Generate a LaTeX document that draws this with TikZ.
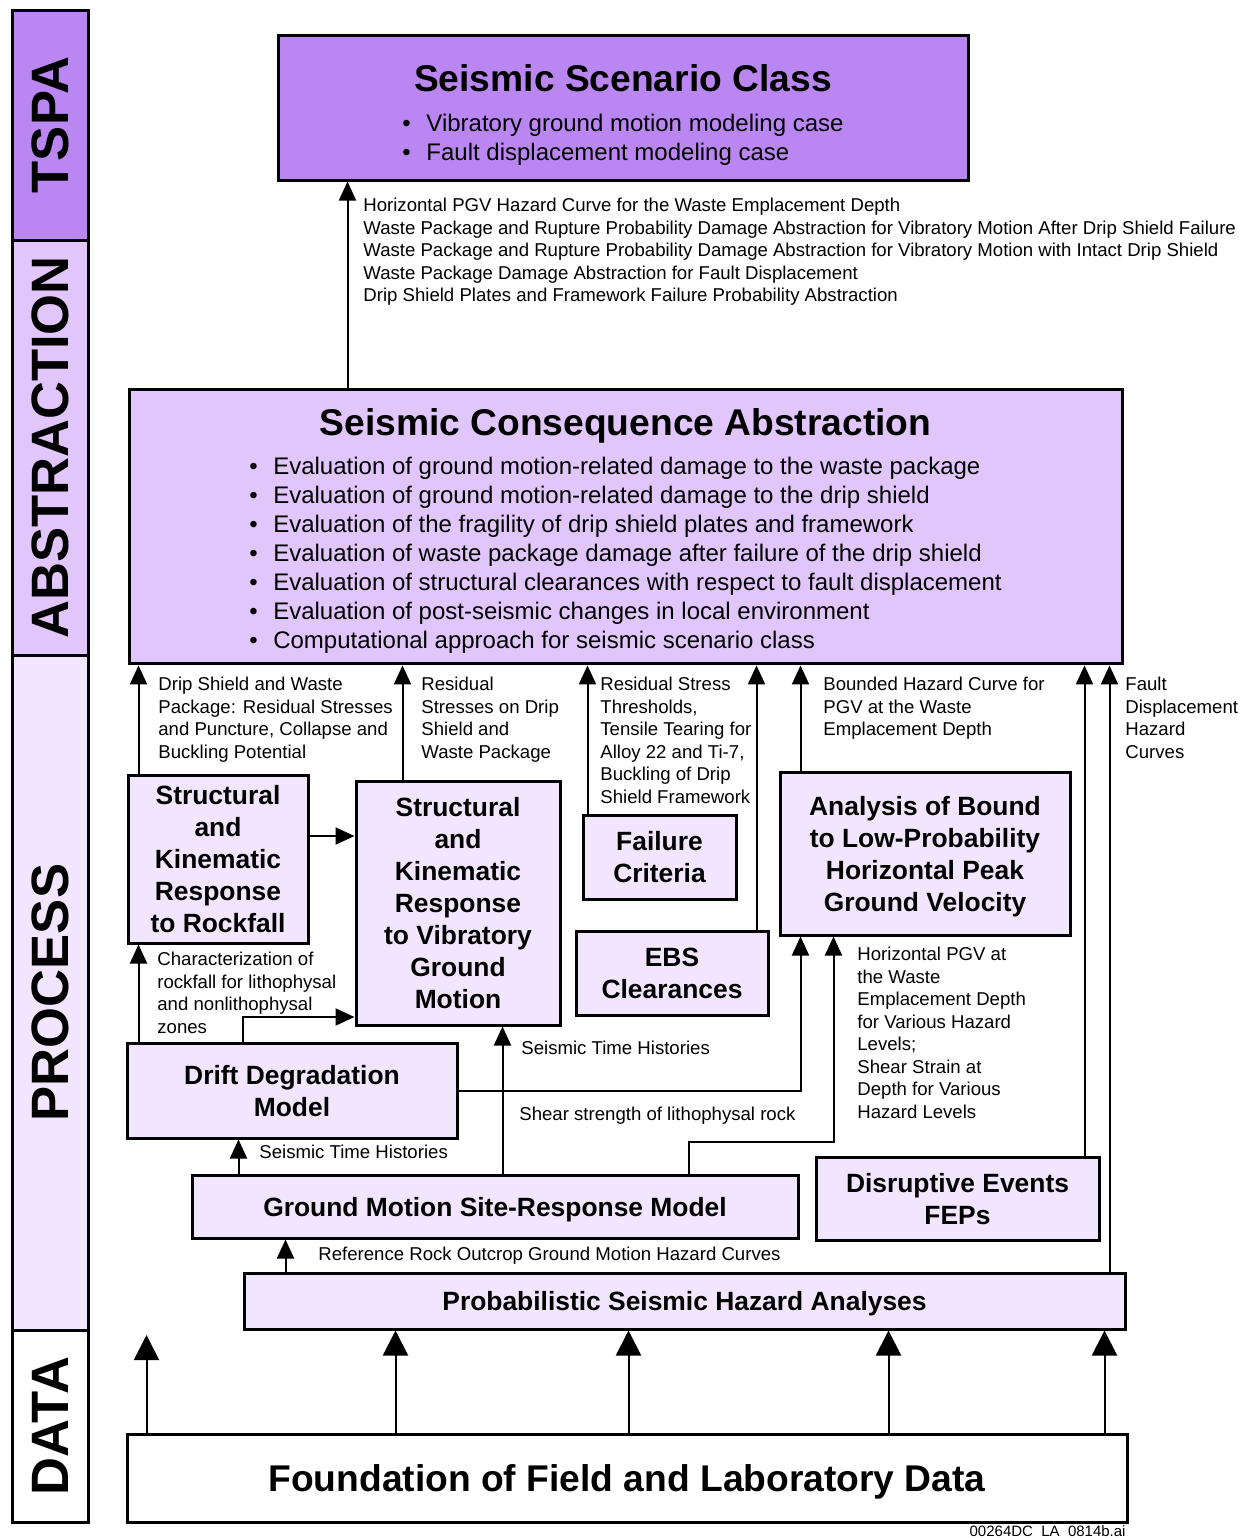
\documentclass[tikz,border=0pt]{standalone}
\usepackage{fontspec}
\setmainfont{Liberation Sans}
\usetikzlibrary{arrows.meta,positioning}
\definecolor{tspafill}{RGB}{186,134,242}
\definecolor{absfill}{RGB}{225,198,252}
\definecolor{procfill}{RGB}{242,230,254}
\newcommand{\headfont}{\bfseries\fontsize{18.6}{22}\selectfont}
\newcommand{\itm}{\makebox[12pt][l]{\textbullet}}
\tikzset{
    band/.style={
    rectangle,draw=black,line width=1.5pt,rotate=90,minimum height=38pt,inner sep=0pt,
    font=\bfseries\fontsize{26.3}{28}\selectfont
    },
    scenario/.style={
    rectangle,draw=black,line width=1.5pt,fill=tspafill,align=center,
    font=\fontsize{12}{14.5}\selectfont
    },
    abstraction/.style={
    rectangle,draw=black,line width=1.5pt,fill=absfill,align=center,
    font=\fontsize{12}{14.5}\selectfont
    },
    process/.style={
    rectangle,draw=black,line width=1.5pt,fill=procfill,align=center,text depth=0pt,
    font=\bfseries\fontsize{13.2}{16}\selectfont
    },
    datum/.style={
    rectangle,draw=black,line width=1.5pt,fill=white,text depth=0pt,font=\headfont
    },
    note/.style={
    anchor=north west,inner sep=0pt,align=left,font=\fontsize{9.3}{11.25}\selectfont
    },
    flow/.style={line width=1pt,-{Triangle[length=9.5pt,width=8.5pt]}},
    bigflow/.style={line width=1pt,-{Triangle[length=12.5pt,width=12.5pt]}},
}
\begin{document}
\begin{tikzpicture}[x=0.5pt,y=-0.5pt]
  \useasboundingbox (0,0) rectangle (1249,1538);

  % level bands
  \node[band,fill=tspafill,minimum width=115pt] (tspa) at (50,125) {TSPA};
  \node[band,fill=absfill,minimum width=207.5pt] (abstr) at (50,447.5) {ABSTRACTION};
  \node[band,fill=procfill,minimum width=337.5pt] (proc) at (50,992.5) {PROCESS};
  \node[band,fill=white,minimum width=96pt] (data) at (50,1426) {DATA};

  \node[scenario,minimum width=345pt,minimum height=72.5pt] (scen) at (623,107.5)
    {{\headfont\rule{0pt}{23pt}Seismic Scenario Class}\\[5.5pt]
     \begin{tabular}[t]{@{}l@{}}
     \itm Vibratory ground motion modeling case\\
     \itm Fault displacement modeling case
     \end{tabular}};
  \node[abstraction,minimum width=496.5pt,minimum height=136.5pt] (sca) at (625.5,526.5)
    {{\headfont\rule{0pt}{19.7pt}Seismic Consequence Abstraction}\\[5.2pt]
     \begin{tabular}[t]{@{}l@{}}
     \itm Evaluation of ground motion-related damage to the waste package\\
     \itm Evaluation of ground motion-related damage to the drip shield\\
     \itm Evaluation of the fragility of drip shield plates and framework\\
     \itm Evaluation of waste package damage after failure of the drip shield\\
     \itm Evaluation of structural clearances with respect to fault displacement\\
     \itm Evaluation of post-seismic changes in local environment\\
     \itm Computational approach for seismic scenario class
     \end{tabular}};

  \node[process,minimum width=90pt,minimum height=84pt] (rock) at (218,859)
    {Structural\\and\\Kinematic\\Response\\to Rockfall};
  \node[process,minimum width=102pt,minimum height=122pt] (vib) at (458,903)
    {Structural\\and\\Kinematic\\Response\\to Vibratory\\Ground\\Motion};
  \node[process,minimum width=76.5pt,minimum height=42pt] (fail) at (659.5,857) {Failure\\Criteria};
  \node[process,minimum width=96pt,minimum height=42pt] (ebs) at (672,973) {EBS\\Clearances};
  \node[process,minimum width=145pt,minimum height=81.5pt] (bound) at (925,853.5)
    {Analysis of Bound\\to Low-Probability\\Horizontal Peak\\Ground Velocity};
  \node[process,minimum width=165pt,minimum height=47.5pt] (drift) at (292,1090.5) {Drift Degradation\\Model};
  \node[process,minimum width=303pt,minimum height=31.5pt] (gmsr) at (495,1206.5) {Ground Motion Site-Response Model};
  \node[process,minimum width=141.5pt,minimum height=41.5pt] (dist) at (957.5,1198.5) {Disruptive Events\\FEPs};
  \node[process,minimum width=440.5pt,minimum height=28pt] (psha) at (684.5,1301) {Probabilistic Seismic Hazard Analyses};
  \node[datum,minimum width=500pt,minimum height=44pt] (found) at (627,1478) {Foundation of Field and Laboratory Data};

  \coordinate (dataup) at (146.5,1335);
  \coordinate (pgvbend) at (833.5,1142);

  \path[flow]
    ([xshift=110pt]sca.north west) edge ([xshift=35.5pt]scen.south west)
    ([xshift=6pt]rock.north west) edge ([xshift=5.5pt]sca.south west)
    ([xshift=24pt]vib.north west) edge ([xshift=137.5pt]sca.south west)
    ([xshift=3pt]fail.north west) edge ([xshift=230pt]sca.south west)
    ([xshift=91pt]ebs.north west) edge ([xshift=314.5pt]sca.south west)
    ([xshift=11pt]bound.north west) edge ([xshift=336.5pt]sca.south west)
    ([xshift=135pt]dist.north west) edge ([xshift=478.5pt]sca.south west)
    ([xshift=433.5pt]psha.north west) edge ([xshift=491pt]sca.south west)
    ([yshift=11.5pt]rock.east) edge ([yshift=33.5pt]vib.west)
    ([xshift=6.5pt]drift.north west) edge ([xshift=6pt]rock.south west)
    ([xshift=24pt]gmsr.north west) edge ([xshift=56.5pt]drift.south west)
    ([xshift=156pt]gmsr.north west) edge ([xshift=74pt]vib.south west)
    ([xshift=21.5pt]psha.north west) edge ([xshift=47.5pt]gmsr.south west);
  \draw[flow] ([xshift=58.5pt]drift.north west) |- ([yshift=-57pt]vib.west);
  \draw[flow] (drift.east) -| ([xshift=11pt]bound.south west);
  \draw[flow] ([xshift=249pt]gmsr.north west) |- (pgvbend) -- ([xshift=27.5pt]bound.south west);

  \path[bigflow]
    ([xshift=10.5pt]found.north west) edge (dataup)
    ([xshift=135pt]found.north west) edge ([xshift=76.5pt]psha.south west)
    ([xshift=251.5pt]found.north west) edge ([xshift=193pt]psha.south west)
    ([xshift=381.5pt]found.north west) edge ([xshift=323pt]psha.south west)
    ([xshift=489.5pt]found.north west) edge ([xshift=431pt]psha.south west);

  % connector texts
  \node[note] (l1) at (363,198) {Horizontal PGV Hazard Curve for the Waste Emplacement Depth\\
    Waste Package and Rupture Probability Damage Abstraction for Vibratory Motion After Drip Shield Failure\\
    Waste Package and Rupture Probability Damage Abstraction for Vibratory Motion with Intact Drip Shield\\
    Waste Package Damage Abstraction for Fault Displacement\\
    Drip Shield Plates and Framework Failure Probability Abstraction};
  \node[note] (l2) at (158,677) {Drip Shield and Waste\\Package: Residual Stresses\\and Puncture, Collapse and\\Buckling Potential};
  \node[note] (l3) at (421,677) {Residual\\Stresses on Drip\\Shield and\\Waste Package};
  \node[note] (l4) at (600,677) {Residual Stress\\Thresholds,\\Tensile Tearing for\\Alloy 22 and Ti-7,\\Buckling of Drip\\Shield Framework};
  \node[note] (l5) at (823,677) {Bounded Hazard Curve for\\PGV at the Waste\\Emplacement Depth};
  \node[note] (l6) at (1125,677) {Fault\\Displacement\\Hazard\\Curves};
  \node[note] (l7) at (157,952) {Characterization of\\rockfall for lithophysal\\and nonlithophysal\\zones};
  \node[note] (l8) at (857,947) {Horizontal PGV at\\the Waste\\Emplacement Depth\\for Various Hazard\\Levels;\\Shear Strain at\\Depth for Various\\Hazard Levels};
  \node[note] (l9) at (521,1041) {Seismic Time Histories};
  \node[note] (l10) at (519,1107) {Shear strength of lithophysal rock};
  \node[note] (l11) at (259,1145) {Seismic Time Histories};
  \node[note] (l12) at (318,1247) {Reference Rock Outcrop Ground Motion Hazard Curves};
  \node[anchor=base east,inner sep=0pt,font=\fontsize{7.5}{9}\selectfont] (tag) at (1126,1536) {00264DC\_LA\_0814b.ai};
\end{tikzpicture}
\end{document}
